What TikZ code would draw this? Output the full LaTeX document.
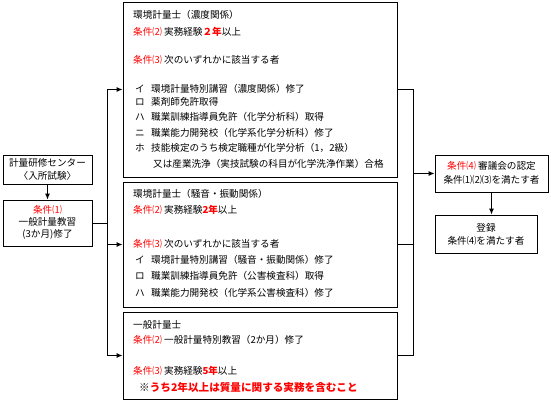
\documentclass[tikz,border=0pt]{standalone}
\usepackage{fontspec}
\setmainfont{Noto Sans CJK JP}
\usetikzlibrary{arrows.meta}
\newcommand{\aka}[1]{\textcolor{red}{#1}}
\newcommand{\akab}[1]{\textcolor{red}{\bfseries #1}}
\begin{document}
\begin{tikzpicture}[x=1pt,y=-1pt,
  waku/.style={draw,line width=0.9pt,inner sep=0pt},
  gyo/.style={anchor=west,inner sep=0pt},
  naka/.style={inner sep=0pt},
  ya/.style={line width=0.9pt,-{Latex[length=6pt,width=5pt]}},
  sen/.style={line width=0.9pt},
  font=\fontsize{9.6pt}{11pt}\selectfont]
\useasboundingbox (0,0) rectangle (551,400);
\node[waku,minimum width=89pt,minimum height=29pt] (center) at (47.5,169.5) {};
\node[waku,minimum width=89pt,minimum height=46pt] (kyoshu) at (47.5,223) {};
\node[waku,minimum width=274pt,minimum height=175pt] (noudo) at (260,89.5) {};
\node[waku,minimum width=274pt,minimum height=125pt] (souon) at (260,244.5) {};
\node[waku,minimum width=274pt,minimum height=87pt] (ippan) at (260,355.5) {};
\node[waku,minimum width=113pt,minimum height=37pt] (nintei) at (491.5,173.5) {};
\node[waku,minimum width=102pt,minimum height=38pt] (touroku) at (486,234) {};
\node[naka] (c1) at (47.5,163) {計量研修センター};
\node[naka] (c2) at (47.5,176) {〈入所試験〉};
\node[naka] (k1) at (47.5,210) {\aka{条件⑴}};
\node[naka] (k2) at (47.5,222) {一般計量教習};
\node[naka] (k3) at (47.5,234) {(3か月)修了};
\node[gyo] (n1) at (133,15) {環境計量士（濃度関係）};
\node[gyo] (n2) at (133,32) {\aka{条件⑵} 実務経験\akab{２年}以上};
\node[gyo] (n3) at (133,60) {\aka{条件⑶} 次のいずれかに該当する者};
\node[gyo] (n4a) at (135,89) {イ};
\node[gyo] (n4) at (151,89) {環境計量特別講習（濃度関係）修了};
\node[gyo] (n5a) at (135,102) {ロ};
\node[gyo] (n5) at (151,102) {薬剤師免許取得};
\node[gyo] (n6a) at (135,117) {ハ};
\node[gyo] (n6) at (151,117) {職業訓練指導員免許（化学分析科）取得};
\node[gyo] (n7a) at (135,133) {ニ};
\node[gyo] (n7) at (151,133) {職業能力開発校（化学系化学分析科）修了};
\node[gyo] (n8a) at (135,148) {ホ};
\node[gyo] (n8) at (151,148) {技能検定のうち検定職種が化学分析（1，2級）};
\node[gyo] (n9) at (153,164) {又は産業洗浄（実技試験の科目が化学洗浄作業）合格};
\node[gyo] (s1) at (133,194) {環境計量士（騒音・振動関係）};
\node[gyo] (s2) at (133,210) {\aka{条件⑵} 実務経験\akab{2年}以上};
\node[gyo] (s3) at (133,244) {\aka{条件⑶} 次のいずれかに該当する者};
\node[gyo] (s4a) at (135,260) {イ};
\node[gyo] (s4) at (151,260) {環境計量特別講習（騒音・振動関係）修了};
\node[gyo] (s5a) at (135,276) {ロ};
\node[gyo] (s5) at (151,276) {職業訓練指導員免許（公害検査科）取得};
\node[gyo] (s6a) at (135,293) {ハ};
\node[gyo] (s6) at (151,293) {職業能力開発校（化学系公害検査科）修了};
\node[gyo] (i1) at (133,325) {一般計量士};
\node[gyo] (i2) at (133,340) {\aka{条件⑵} 一般計量特別教習（2か月）修了};
\node[gyo] (i3) at (133,371) {\aka{条件⑶} 実務経験\akab{5年}以上};
\node[gyo,font=\fontsize{10.6pt}{12pt}\selectfont] (i4) at (139,387) {※\akab{うち2年以上は質量に関する実務を含むこと}};
\node[naka] (r1) at (491.5,166) {\aka{条件⑷} 審議会の認定};
\node[naka] (r2) at (491.5,180) {条件⑴⑵⑶を満たす者};
\node[naka] (t1) at (486,228) {登録};
\node[naka] (t2) at (486,241) {条件⑷を満たす者};
\coordinate (bunki) at (107,223);
\coordinate (gouryu) at (413,173.5);
\draw[ya] (center) -- (kyoshu);
\draw[sen] (kyoshu.east) -- (bunki);
\draw[ya] (bunki) |- (noudo.west);
\draw[ya] (bunki) |- (souon.west);
\draw[ya] (bunki) |- (ippan.west);
\draw[sen] (noudo.east) -| (gouryu);
\draw[sen] (souon.east) -| (gouryu);
\draw[sen] (ippan.east) -| (gouryu);
\draw[ya] (gouryu) -- (nintei.west);
\draw[ya] (nintei.south) -- (nintei.south |- touroku.north);
\end{tikzpicture}
\end{document}
